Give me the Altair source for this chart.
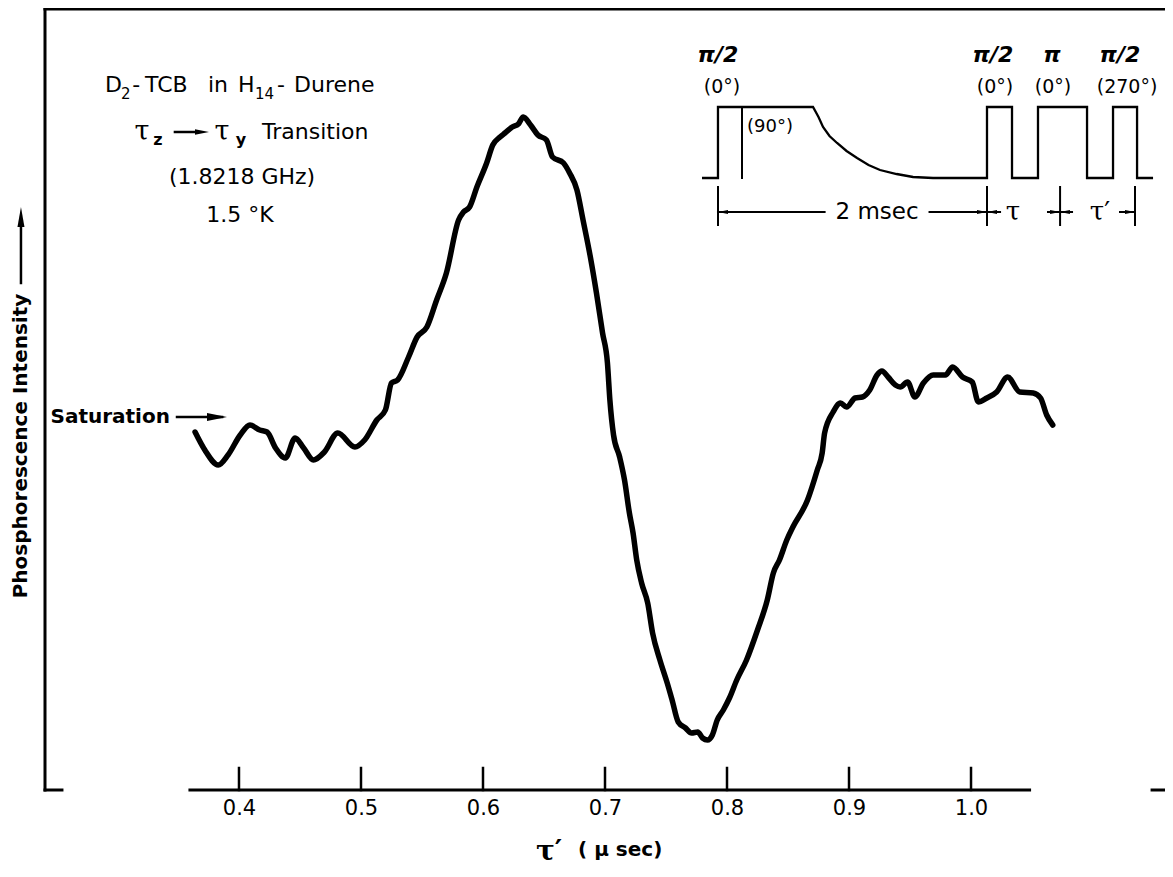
import altair as alt
import pandas as pd

FONT = "DejaVu Sans"

# ---- main trace: tau' (micro-sec) vs phosphorescence intensity (arb. units)
tau_us = [0.364, 0.372, 0.383, 0.391, 0.401, 0.409, 0.417, 0.423, 0.430, 0.438,
          0.446, 0.453, 0.461, 0.470, 0.481, 0.495, 0.503, 0.513, 0.520, 0.525,
          0.530, 0.539, 0.546, 0.554, 0.562, 0.570, 0.580, 0.584, 0.589, 0.595,
          0.603, 0.608, 0.614, 0.618, 0.624, 0.629, 0.633, 0.639, 0.645, 0.652,
          0.657, 0.666, 0.671, 0.677, 0.682, 0.688, 0.693, 0.698, 0.702, 0.704,
          0.707, 0.712, 0.716, 0.720, 0.723, 0.726, 0.730, 0.735, 0.739, 0.745,
          0.751, 0.755, 0.760, 0.766, 0.771, 0.776, 0.780, 0.784, 0.788, 0.792,
          0.797, 0.802, 0.808, 0.816, 0.825, 0.833, 0.838, 0.843, 0.849, 0.854,
          0.866, 0.874, 0.878, 0.880, 0.887, 0.893, 0.898, 0.905, 0.911, 0.917,
          0.923, 0.927, 0.932, 0.938, 0.942, 0.948, 0.954, 0.961, 0.969, 0.979,
          0.985, 0.993, 1.001, 1.006, 1.013, 1.021, 1.030, 1.040, 1.051, 1.057,
          1.062, 1.067]
intensity = [35.8, 34.0, 32.5, 33.5, 35.5, 36.5, 36.0, 35.8, 34.2, 33.2,
             35.2, 34.2, 33.0, 33.8, 35.7, 34.3, 35.0, 37.0, 38.0, 40.7,
             41.0, 43.3, 45.3, 46.3, 49.0, 51.7, 57.0, 57.8, 58.3, 60.3,
             62.7, 64.5, 65.3, 65.7, 66.3, 66.6, 67.3, 66.5, 65.5, 65.0,
             63.3, 62.7, 61.7, 60.0, 57.0, 53.3, 49.7, 45.7, 42.7, 39.0,
             35.5, 33.3, 31.0, 27.7, 25.7, 23.0, 20.7, 18.7, 15.7, 13.0,
             10.7, 9.0, 6.8, 6.2, 5.7, 5.8, 5.2, 5.0, 5.5, 7.0,
             8.0, 9.2, 11.0, 13.0, 16.0, 19.0, 21.7, 23.0, 25.0, 26.3,
             29.0, 32.0, 33.7, 35.7, 37.8, 38.7, 38.3, 39.2, 39.3, 40.0,
             41.5, 41.9, 41.3, 40.5, 40.3, 40.8, 39.3, 40.7, 41.5, 41.5,
             42.3, 41.3, 40.8, 38.8, 39.2, 39.8, 41.3, 39.8, 39.7, 39.2,
             37.5, 36.5]

tick_values = [0.4, 0.5, 0.6, 0.7, 0.8, 0.9, 1.0]
tick_top = 2.2
axis_start, axis_end = 0.3598, 1.048
x_min, x_max = 0.241, 1.159
y_min, y_max = 0.0, 78.1

# ---- inset: pulse sequence drawing (in the same data units)
inset_t = [0.7795, 0.7926, 0.7926, 0.8705, 0.8750, 0.8787, 0.8840, 0.8902, 0.8980,
           0.9066, 0.9160, 0.9254, 0.9390, 0.9525, 0.9689, 1.0131, 1.0131, 1.0336,
           1.0336, 1.0549, 1.0549, 1.0951, 1.0951, 1.1164, 1.1164, 1.1361, 1.1361,
           1.1492]
inset_v = [61.2, 61.2, 68.3, 68.3, 67.3, 66.3, 65.4, 64.7, 63.9,
           63.2, 62.5, 62.0, 61.6, 61.3, 61.2, 61.2, 68.3, 68.3,
           61.2, 61.2, 68.3, 68.3, 61.2, 61.2, 68.3, 68.3, 61.2,
           61.2]
phase_marker_t = 0.8123
dim_level = 57.8
dim_ticks_t = [0.7926, 1.0131, 1.0730, 1.1344]
dim_segments = [(0.7926, 0.8800), (0.9660, 1.0131), (1.0131, 1.0238),
                (1.0631, 1.0828), (1.1221, 1.1344)]
dim_heads_right = [1.0090, 1.0689, 1.1303]
dim_heads_left = [0.7967, 1.0172, 1.0770]

pulse_labels = ["π/2", "π/2", "π", "π/2"]
pulse_label_t = [0.7926, 1.0180, 1.0664, 1.1221]
phase_labels = ["(0°)", "(0°)", "(0°)", "(270°)"]
phase_label_t = [0.7959, 1.0197, 1.0672, 1.1279]

# ---- scales
xscale = alt.Scale(domain=[x_min, x_max], nice=False, zero=False)
yscale = alt.Scale(domain=[y_min, y_max], nice=False, zero=False)
xaxis = alt.Axis(values=tick_values, format=".1f", domain=False, ticks=False,
                 grid=False, title=None, labelFontSize=21, labelFont=FONT,
                 labelColor="black", labelPadding=7, labelFlush=False)


def X(f="x"):
    return alt.X(f"{f}:Q", scale=xscale, axis=xaxis)


def Y(f="y"):
    return alt.Y(f"{f}:Q", scale=yscale, axis=None)


def rules(rows, width):
    df = pd.DataFrame(rows, columns=["x", "y", "x2", "y2"])
    return alt.Chart(df).mark_rule(color="black", strokeWidth=width,
                                   strokeCap="square").encode(
        x=X(), y=Y(), x2=alt.X2("x2:Q"), y2=alt.Y2("y2:Q"))


def texts(rows, **kw):
    df = pd.DataFrame(rows, columns=["x", "y", "t"])
    params = dict(color="black", font=FONT, baseline="middle")
    params.update(kw)
    return alt.Chart(df).mark_text(**params).encode(x=X(), y=Y(), text="t:N")


RIGHT = "M1,0L-1,-0.4L-1,0.4Z"
LEFT = "M-1,0L1,-0.4L1,0.4Z"
UP = "M0,-1L-0.35,1L0.35,1Z"


def heads(rows):
    df = pd.DataFrame(rows, columns=["x", "y", "shape", "size"])
    return alt.Chart(df).mark_point(filled=True, color="black", opacity=1,
                                    strokeWidth=0).encode(
        x=X(), y=Y(), shape=alt.Shape("shape:N", scale=None, legend=None),
        size=alt.Size("size:Q", scale=None, legend=None))


curve = alt.Chart(pd.DataFrame({"x": tau_us, "y": intensity})).mark_line(
    color="black", strokeWidth=5.5, interpolate="monotone",
    strokeCap="round", strokeJoin="round").encode(x=X(), y=Y())

frame = rules([
    (x_min, y_min, x_min, y_max),
    (x_min, y_max, x_max, y_max),
    (x_min, y_min, 0.2549, y_min),
    (1.1484, y_min, x_max, y_min),
    (axis_start, y_min, axis_end, y_min),
], 3)

ticks = rules([(t, y_min, t, tick_top) for t in tick_values], 2.5)

annot_rules = rules([
    (0.3492, 37.3, 0.3861, 37.3),   # saturation arrow shaft
    (0.2213, 50.7, 0.2213, 56.5),   # y-title arrow shaft
    (0.3475, 65.8, 0.3639, 65.8),   # transition arrow shaft
], 2.5)

inset_line = alt.Chart(pd.DataFrame({"x": inset_t, "y": inset_v,
                                     "i": list(range(len(inset_t)))})).mark_line(
    color="black", strokeWidth=2.3, strokeJoin="miter").encode(
    x=X(), y=Y(), order=alt.Order("i:Q"))

inset_rules = rules(
    [(phase_marker_t, 61.2, phase_marker_t, 68.3)]
    + [(t, 56.5, t, 60.3) for t in dim_ticks_t]
    + [(a, dim_level, b, dim_level) for a, b in dim_segments], 2)

arrowheads = heads(
    [(0.3820, 37.3, RIGHT, 400), (0.2213, 57.3, UP, 400),
     (0.3697, 65.8, RIGHT, 196)]
    + [(t, dim_level, RIGHT, 100) for t in dim_heads_right]
    + [(t, dim_level, LEFT, 100) for t in dim_heads_left])

# sample description, built from pieces so subscripts sit low
info_main = texts([
    (0.2902, 70.5, "D"), (0.3125, 70.5, "-"), (0.3230, 70.5, "TCB"),
    (0.3746, 70.5, "in"), (0.3992, 70.5, "H"), (0.4311, 70.5, "-"),
    (0.4451, 70.5, "Durene"),
], fontSize=22, align="left")
info_sub = texts([(0.3033, 69.6, "2"), (0.4131, 69.6, "14")],
                 fontSize=15, align="left")
info_lines = texts([
    (0.4025, 61.3, "(1.8218 GHz)"),
    (0.4008, 57.5, "1.5 °K"),
], fontSize=22, align="center")

trans_tau = texts([(0.3205, 65.8, "τ"), (0.3861, 65.8, "τ")],
                  fontSize=27, align="center", font="DejaVu Serif")
trans_sub = texts([(0.3336, 65.0, "z"), (0.4016, 65.0, "y")],
                  fontSize=16, align="center", fontWeight="bold")
trans_word = texts([(0.4189, 65.8, "Transition")], fontSize=22, align="left")

saturation = texts([(0.3434, 37.3, "Saturation")], fontSize=20,
                   align="right", fontWeight="bold")
ytitle = texts([(0.2213, 34.4, "Phosphorescence Intensity")], fontSize=20,
               align="center", angle=270, fontWeight="bold")
xtitle_tau = texts([(0.6541, -6.2, "τ′")], fontSize=28, align="center",
                   font="DejaVu Serif", fontWeight="bold")
xtitle_unit = texts([(0.6779, -6.0, "( μ sec)")], fontSize=20, align="left",
                    fontWeight="bold")

pulse_txt = texts(list(zip(pulse_label_t, [73.5] * 4, pulse_labels)),
                  fontSize=22, align="center", fontStyle="italic",
                  fontWeight="bold")
phase_txt = texts(list(zip(phase_label_t, [70.3] * 4, phase_labels)),
                  fontSize=19, align="center")
ninety_txt = texts([(0.8164, 66.3, "(90°)")], fontSize=18, align="left")
dim_txt = texts([(0.9230, dim_level, "2 msec")], fontSize=23, align="center")
dim_tau = texts([(1.0344, dim_level, "τ"), (1.1057, dim_level, "τ′")],
                fontSize=26, align="center", font="DejaVu Serif")

chart = alt.layer(
    frame, ticks, curve, annot_rules, arrowheads, inset_line, inset_rules,
    info_main, info_sub, info_lines, trans_tau, trans_sub, trans_word,
    saturation, ytitle, xtitle_tau, xtitle_unit, pulse_txt, phase_txt,
    ninety_txt, dim_txt, dim_tau,
).properties(
    width=1120, height=781,
    autosize=alt.AutoSizeParams(type="none"),
    padding={"left": 37, "top": 1, "right": 0, "bottom": 77},
    background="white",
).configure_view(stroke=None)

chart.save("out.html", embed_options={"renderer": "svg", "actions": False})
